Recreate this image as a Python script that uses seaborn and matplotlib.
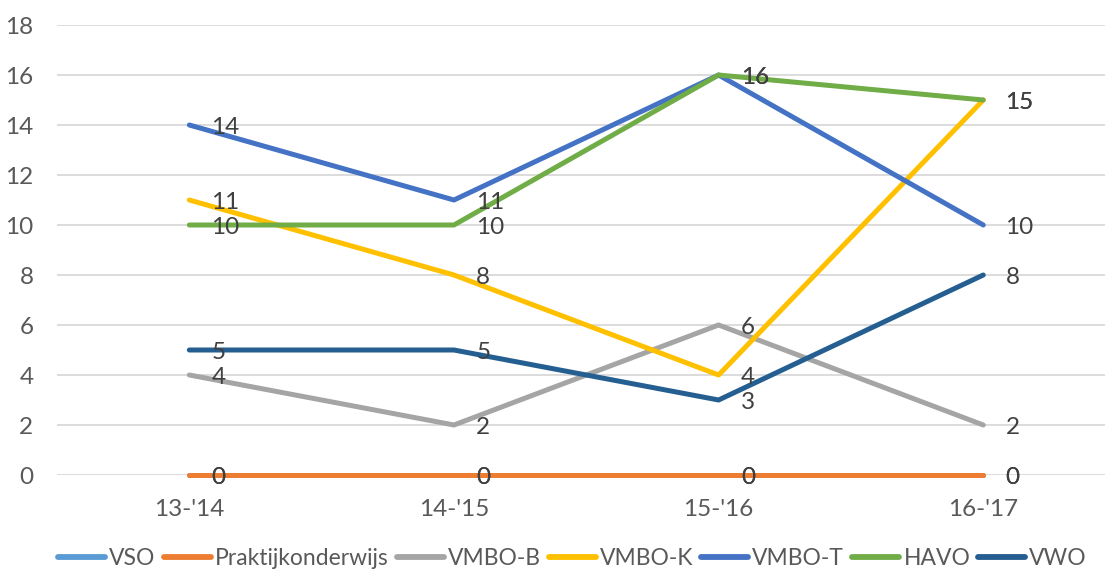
import matplotlib.pyplot as plt
import seaborn as sns
import pandas as pd

sns.set_theme(style="white")
plt.rcParams['font.family'] = ['Lato', 'DejaVu Sans']

years = ["13-'14", "14-'15", "15-'16", "16-'17"]
series = ['VSO', 'Praktijkonderwijs', 'VMBO-B', 'VMBO-K', 'VMBO-T', 'HAVO', 'VWO']
vso = [0, 0, 0, 0]
praktijk = [0, 0, 0, 0]
vmbo_b = [4, 2, 6, 2]
vmbo_k = [11, 8, 4, 15]
vmbo_t = [14, 11, 16, 10]
havo = [10, 10, 16, 15]
vwo = [5, 5, 3, 8]
colors = ['#5B9BD5', '#ED7D31', '#A5A5A5', '#FFC000', '#4472C4', '#70AD47', '#255E91']

values = [vso, praktijk, vmbo_b, vmbo_k, vmbo_t, havo, vwo]
df = pd.DataFrame([
    {'Jaar': y, 'Aantal': v, 'Richting': s}
    for s, vals in zip(series, values)
    for y, v in zip(years, vals)
])

fs = 17.5
fig = plt.figure(figsize=(11.05, 5.7), dpi=100)
ax = fig.add_axes([57 / 1105, 95 / 570, 1048 / 1105, 450 / 570])

sns.lineplot(data=df, x='Jaar', y='Aantal', hue='Richting', hue_order=series,
             palette=colors, sort=False, linewidth=3.6, ax=ax,
             solid_capstyle='round', solid_joinstyle='round')
for line in ax.get_lines():
    line.set_clip_on(False)

# data labels, right of each point
for s, vals in zip(series, values):
    for i, v in enumerate(vals):
        ax.annotate(str(v), (i, v), xytext=(16, -1.5), textcoords='offset points',
                    ha='left', va='center', fontsize=fs, color='#404040')

ax.set_xlim(-0.5, 3.46)
ax.set_ylim(0, 18)
ax.set_yticks(range(0, 19, 2))
ax.set_xlabel('')
ax.set_ylabel('')
ax.grid(axis='y', color='#D9D9D9', linewidth=1.3)
ax.set_axisbelow(True)
for sp in ax.spines.values():
    sp.set_visible(False)
ax.tick_params(axis='y', length=0, pad=17, labelsize=fs, labelcolor='#595959')
ax.tick_params(axis='x', length=0, pad=17, labelsize=fs, labelcolor='#595959')

handles, labels = ax.get_legend_handles_labels()
leg = ax.legend(handles, labels, loc='center', bbox_to_anchor=(0.492, -0.185),
                ncol=7, frameon=False, fontsize=16.5, handlelength=2.05,
                handletextpad=0.18, columnspacing=0.35, labelcolor='#595959')
for line in leg.get_lines():
    line.set_linewidth(4.2)
    line.set_solid_capstyle('round')

fig.savefig('out.png', dpi=100)
